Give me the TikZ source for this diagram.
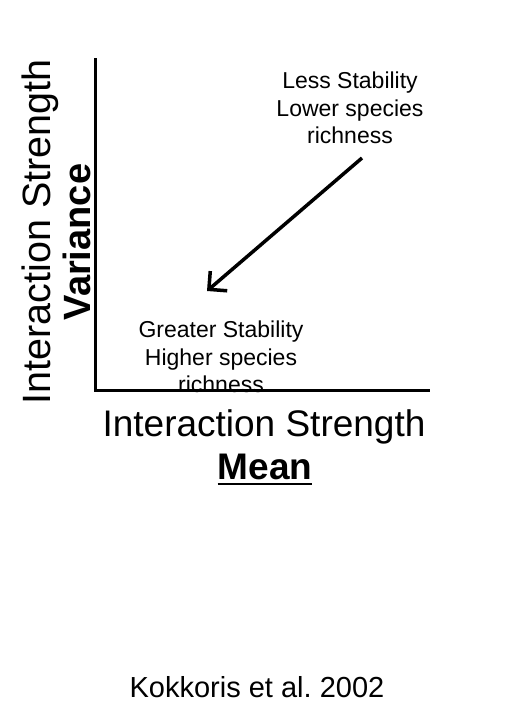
\documentclass[tikz,border=0pt]{standalone}
\usepackage{fontspec}
\setmainfont{Liberation Sans}
\usepackage{tikz}
\usetikzlibrary{positioning,arrows.meta}
\newcommand{\thickul}[1]{\setbox0\hbox{#1}\rlap{\rule[-5.5pt]{\wd0}{2.5pt}}\box0}

\begin{document}
\begin{tikzpicture}[
    x=1pt, y=1pt,
    biglbl/.style={anchor=base, inner sep=0pt, font=\fontsize{37}{44}\selectfont},
    note/.style={anchor=base, inner sep=0pt, align=center, font=\fontsize{23}{27.5}\selectfont},
    cite/.style={anchor=base, inner sep=0pt, font=\fontsize{29}{34}\selectfont},
    axis/.style={line width=3pt, line cap=rect},
    arr/.style={-{Straight Barb[length=13pt, width=26pt, line width=3.5pt]}, line width=3.5pt}
]
\useasboundingbox (0,0) rectangle (505,712);

\node[biglbl, rotate=90, font=\fontsize{39.5}{44}\selectfont] (ylab) at (50,480) {Interaction Strength};
\node[biglbl, rotate=90, font=\fontsize{38}{44}\selectfont\bfseries] (var) at (90,470) {Variance};
\node[biglbl] (xlab) at (264,275) {Interaction Strength};
\node[biglbl, font=\fontsize{37}{44}\selectfont\bfseries] (mean) at (265,232) {\thickul{Mean}};

\node[note] (less) at (350,568) {Less Stability\\Lower species\\richness};
\node[note] (greater) at (221,319) {Greater Stability\\Higher species\\richness};

\coordinate (origin) at (95,321);
\coordinate (ytop) at (95,652);
\coordinate (xend) at (428,321);
\coordinate (from) at (362,554);
\coordinate (to) at (207,421);

\draw[axis] (ytop) -- (origin) -- (xend);
\draw[arr] (from) -- (to);

\node[cite] (ref) at (257,14) {Kokkoris et al.\ 2002};
\end{tikzpicture}
\end{document}
